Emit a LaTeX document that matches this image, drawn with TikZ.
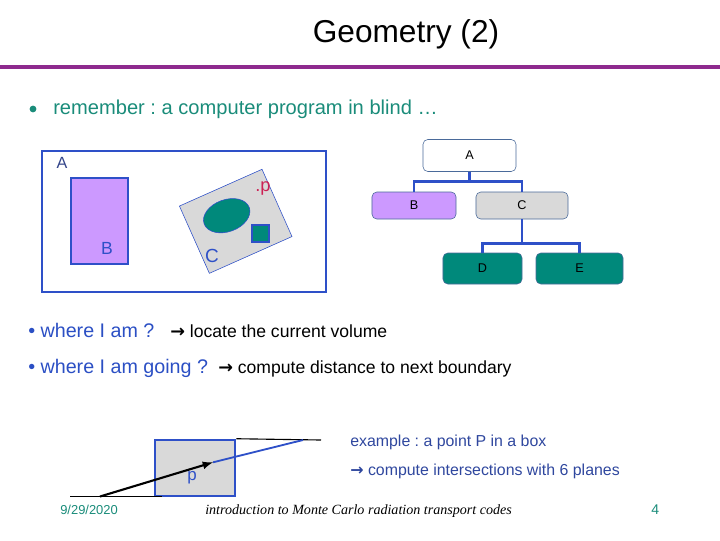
\documentclass[tikz,border=0pt]{standalone}
\usepackage{fontspec}
\setmainfont{Liberation Sans}
\newfontfamily\timesfont{Liberation Serif}
\newfontfamily\symfont{DejaVu Sans}
\usepackage{xcolor}
\usepackage{tikz}
\usetikzlibrary{shapes.geometric}
\frenchspacing
\newcommand{\goesto}{{\symfont\bfseries →}}
\definecolor{titlebar}{HTML}{8E2A8E}
\definecolor{tealtext}{HTML}{1A8C7A}
\definecolor{bluetext}{HTML}{2B4FC4}
\definecolor{exampletext}{HTML}{2F479E}
\definecolor{boxblue}{HTML}{2E50C8}
\definecolor{lavender}{HTML}{CC99FF}
\definecolor{volgray}{HTML}{D9D9D9}
\definecolor{tealfill}{HTML}{00897B}
\definecolor{pointred}{HTML}{CC2255}
\definecolor{treeborder}{HTML}{4A6A9A}
\definecolor{labelblue}{HTML}{34458A}

\begin{document}
\begin{tikzpicture}[
    x=0.025cm, y=-0.025cm,
    treebox/.style={rectangle, draw=treeborder, rounded corners=0.12cm,
                    inner sep=0pt, font=\fontsize{9}{11}\selectfont},
    branch/.style={draw=boxblue, line width=2pt},
    volume/.style={draw=boxblue, line width=1.4pt},
    txt/.style={inner sep=0pt, anchor=base west}
]
\useasboundingbox (0,0) rectangle (720,540);

% title
\node[inner sep=0pt, font=\fontsize{22.5}{27}\selectfont] (title) at (406,34) {Geometry (2)};
\draw[titlebar, line width=2.2pt] (0,67) -- (720,67);

\node[circle, fill=tealtext, inner sep=0pt, minimum size=0.17cm] (dot) at (33,109) {};
\node[txt, text=tealtext, font=\fontsize{14.3}{17}\selectfont] (remember) at (53,114)
    {remember : a computer program in blind …};

% volumes as they are placed
\draw[volume] (42,151) rectangle (326,292);
\node[inner sep=0pt, text=labelblue, font=\fontsize{11.5}{14}\selectfont] (volA) at (62,163) {A};
\node[volume, fill=lavender, minimum width=1.425cm, minimum height=2.15cm] (boxB) at (99.5,221) {};
\node[inner sep=0pt, text=boxblue, font=\fontsize{12.5}{15}\selectfont] (volB) at (107,248) {B};
\node[draw=boxblue, fill=volgray, minimum width=2.26cm, minimum height=1.84cm, rotate=24] (boxC) at (235.7,221.3) {};
\node[ellipse, draw=boxblue, fill=tealfill, minimum width=1.2cm, minimum height=0.8cm, rotate=20] (lump) at (226.7,215.7) {};
\node[volume, fill=tealfill, minimum size=0.43cm, inner sep=0pt] (cube) at (260.5,233.2) {};
\node[inner sep=0pt, text=boxblue, font=\fontsize{13.5}{16}\selectfont] (volC) at (212,256) {C};
\node[inner sep=0pt, text=pointred, font=\fontsize{13}{15}\selectfont] (point) at (263,188) {.p};

% the same volumes as a tree
\node[treebox, fill=white, minimum width=2.325cm, minimum height=0.8cm] (A) at (469.5,155.5) {A};
\node[treebox, fill=lavender, minimum width=2.1cm, minimum height=0.675cm] (B) at (414,205.5) {B};
\node[treebox, fill=volgray, minimum width=2.3cm, minimum height=0.675cm] (C) at (522,205.5) {C};
\node[treebox, fill=tealfill, minimum width=1.975cm, minimum height=0.775cm] (D) at (482.5,268.5) {D};
\node[treebox, fill=tealfill, minimum width=2.175cm, minimum height=0.775cm] (E) at (579.5,268.5) {E};

\draw[branch] (A.south) -- ++(0,10) -| (B.north);
\draw[branch] (A.south) -- ++(0,10) -| (C.north);
\draw[branch] (C.south) -- ++(0,24) -| (D.north);
\draw[branch] (C.south) -- ++(0,24) -| (E.north);

% questions
\node[txt, text=bluetext, font=\fontsize{14}{17}\selectfont] (where) at (28,337) {• where I am ?};
\node[txt, font=\fontsize{12.5}{15}\selectfont] (locate) at (170,337) {\goesto{} locate the current volume};
\node[txt, text=bluetext, font=\fontsize{14}{17}\selectfont] (going) at (28,373) {• where I am going ?};
\node[txt, font=\fontsize{12.5}{15}\selectfont] (distance) at (218,373) {\goesto{} compute distance to next boundary};

% point in a box
\node[draw=boxblue, line width=1.8pt, fill=volgray, minimum width=2cm, minimum height=1.4cm, inner sep=0pt] (box) at (195,468) {};
\node[inner sep=0pt, text=boxblue, font=\fontsize{12}{14}\selectfont] (P) at (192,478) {p};
\coordinate (start) at (100,496.5);
\coordinate (hit) at (303,440);
\draw[black, line width=0.8pt] (box.north east) -- (321,440);
\draw[black, line width=1.1pt] (70,496.5) -- (162,496.5);
\draw[-latex, black, line width=1.5pt] (start) -- (213,462.3) coordinate (tip);
\draw[boxblue, line width=1.3pt] (tip) -- (hit);

\node[txt, text=exampletext, font=\fontsize{11.3}{14}\selectfont] (example) at (350,446) {example : a point P in a box};
\node[txt, text=exampletext, font=\fontsize{11.3}{14}\selectfont] (planes) at (350,475) {\goesto{} compute intersections with 6 planes};

% footer
\node[txt, text=tealtext, font=\fontsize{9.2}{11}\selectfont] (date) at (60,514) {9/29/2020};
\node[txt, font=\timesfont\itshape\fontsize{10}{12}\selectfont] (course) at (205,514) {introduction to Monte Carlo radiation transport codes};
\node[txt, text=tealtext, font=\fontsize{10}{12}\selectfont] (page) at (651,514) {4};
\end{tikzpicture}
\end{document}
